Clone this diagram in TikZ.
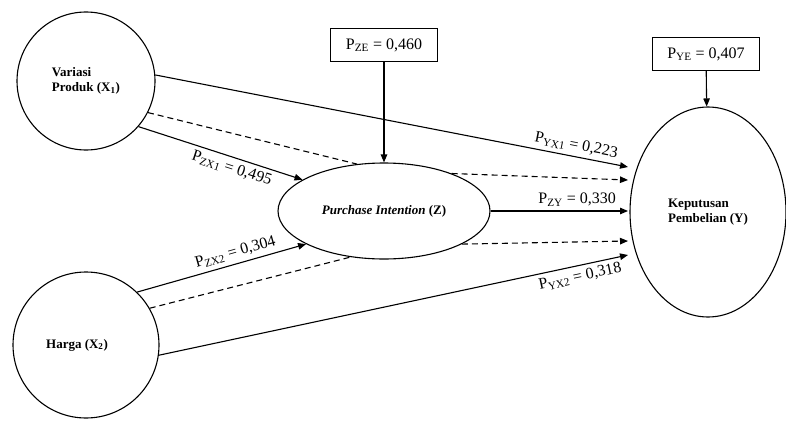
\documentclass[tikz,border=0pt]{standalone}
\usepackage{fontspec}
\setmainfont{Liberation Serif}
\usetikzlibrary{arrows.meta, shapes.geometric}
\newcommand{\pth}[2]{P\textsubscript{#1} = #2}

\begin{document}
\begin{tikzpicture}[x=1pt, y=-1pt,
  var/.style={draw, circle, line width=1.1pt, inner sep=0pt, align=left, font=\fontsize{13}{15}\selectfont\bfseries},
  ell/.style={draw, ellipse, line width=1.1pt, inner sep=0pt, align=left, font=\fontsize{13}{15}\selectfont\bfseries},
  errbox/.style={draw, line width=1.1pt, minimum width=107pt, minimum height=33pt, inner sep=2pt, font=\fontsize{16}{19}\selectfont},
  edge/.style={-{Triangle[length=8pt, width=6.5pt]}, line width=1.1pt},
  ind/.style={dash pattern=on 6pt off 4pt, line width=1.1pt},
  indedge/.style={ind, -{Triangle[length=8pt, width=6.5pt]}},
  lab/.style={sloped, font=\fontsize{16}{19}\selectfont, inner sep=4pt}
]
\useasboundingbox (0,0) rectangle (786,420);

% variables
\node[var, minimum size=138pt] (X1) at (86,81) {Variasi\\Produk (X\textsubscript{1})};
\node[var, minimum size=146pt] (X2) at (86,345) {Harga (X\textsubscript{2})\hspace*{18pt}};
\node[ell, minimum width=212pt, minimum height=96pt] (Z) at (384,211) {{\itshape Purchase Intention} (Z)};
\node[ell, minimum width=156pt, minimum height=210pt] (Y) at (708,212) {Keputusan\\Pembelian (Y)};

% error terms
\node[errbox] (pze) at (384,45) {\pth{ZE}{0,460}};
\node[errbox] (pye) at (706,54) {\pth{YE}{0,407}};

% arrow ends in front of Y
\coordinate (yx1) at (628,167);
\coordinate (yzx1) at (628,180);
\coordinate (yzy) at (628,211);
\coordinate (yzx2) at (628,241);
\coordinate (yx2) at (628,255);

% direct paths
\draw[edge] (X1.5) -- node[lab, above, pos=0.886] {\pth{YX1}{0,223}} (yx1);
\draw[edge] (X1.-41) -- node[lab, below, pos=0.59] {\pth{ZX1}{0,495}} (Z.159);
\draw[edge] (X2.46) -- node[lab, above, pos=0.6] {\pth{ZX2}{0,304}} (Z.203);
\draw[edge] (X2.-8) -- node[lab, below, pos=0.893] {\pth{YX2}{0,318}} (yx2);
\draw[edge] (Z.east) -- node[lab, above, pos=0.63] {\pth{ZY}{0,330}} (yzy);

% indirect paths
\draw[ind] (X1.-27) -- (Z.120);
\draw[indedge] (Z.29) -- (yzx1);
\draw[ind] (X2.30) -- (Z.-126);
\draw[indedge] (Z.-23) -- (yzx2);

% errors
\draw[edge] (pze) -- (Z);
\draw[edge] (pye) -- (Y);
\end{tikzpicture}
\end{document}
